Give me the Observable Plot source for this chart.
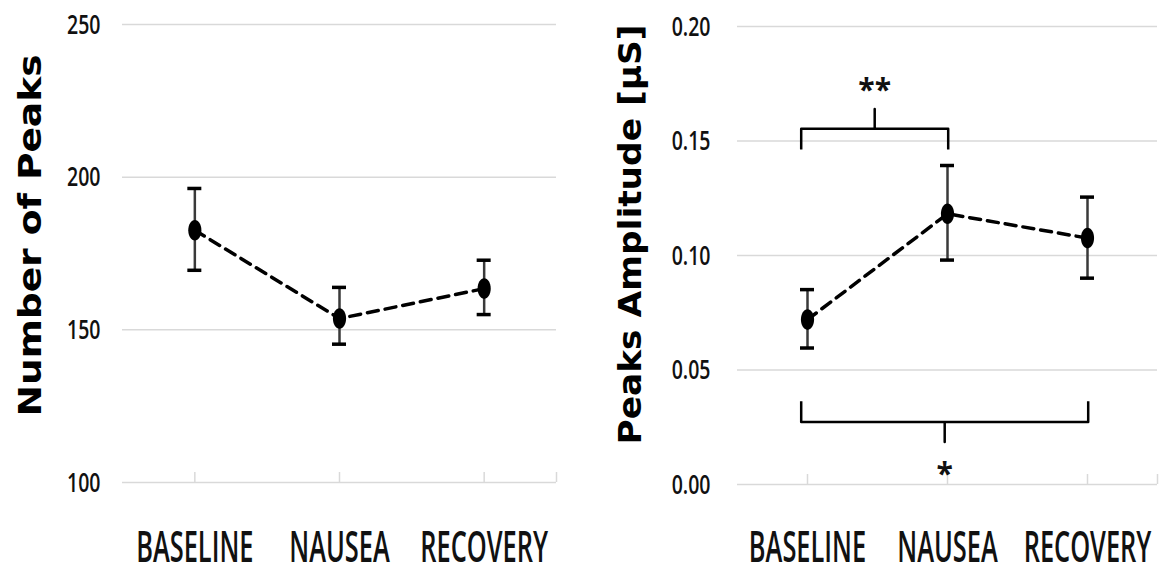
<!DOCTYPE html>
<html><head><meta charset="utf-8">
<script src="https://cdn.jsdelivr.net/npm/d3@7"></script>
<script src="https://cdn.jsdelivr.net/npm/@observablehq/plot@0.6"></script>
<style>
html,body{margin:0;padding:0;background:#fff;}
#wrap{position:relative;width:1165px;height:565px;display:flex;overflow:hidden;}
#wrap svg{display:block;flex:none;}
</style></head><body><div id="wrap"></div>
<script>
// ---- data ----
const categories = ["BASELINE", "NAUSEA", "RECOVERY"];

const peaksMean = [182.6, 153.7, 163.5];
const peaksLow  = [169.5, 145.3, 155.0];
const peaksHigh = [196.3, 163.9, 172.8];
const peaksTicks = [100, 150, 200, 250];
const peaksTitle = "Number of Peaks";

const ampMean = [0.0720, 0.1182, 0.1076];
const ampLow  = [0.0596, 0.0980, 0.0901];
const ampHigh = [0.0851, 0.1393, 0.1255];
const ampTicks = [0, 0.05, 0.10, 0.15, 0.20];
const ampTitle = "Peaks Amplitude [µS]";

// significance brackets (right panel)
const sigFrom   = ["BASELINE", "BASELINE"];
const sigTo     = ["NAUSEA", "RECOVERY"];
const sigLevel  = [0.1553, 0.0273];
const sigSide   = ["above", "below"];
const sigLabel  = ["**", "*"];

// ---- helpers ----
const ellipse = {
  draw(ctx, size) {
    const r = Math.sqrt(size / Math.PI), rx = r * 0.64, ry = r;
    const kx = rx * 0.5523, ky = ry * 0.5523;
    ctx.moveTo(rx, 0);
    ctx.bezierCurveTo(rx, ky, kx, ry, 0, ry);
    ctx.bezierCurveTo(-kx, ry, -rx, ky, -rx, 0);
    ctx.bezierCurveTo(-rx, -ky, -kx, -ry, 0, -ry);
    ctx.bezierCurveTo(kx, -ry, rx, -ky, rx, 0);
    ctx.closePath();
  }
};

function rows(mean, low, high) {
  return categories.map((c, i) => ({i, cat: c, mean: mean[i], low: low[i], high: high[i]}));
}

function baseMarks(data, ticks, yMin) {
  const tickXs = d3.range(categories.length).concat([categories.length - 0.5]);
  return [
    Plot.ruleY(ticks, {stroke: "#d9d9d9", strokeWidth: 1.5}),
    Plot.ruleX(tickXs, {x: d => d, y1: yMin, y2: yMin, insetTop: -10, stroke: "#d9d9d9", strokeWidth: 1.5}),
    Plot.line(data, {x: "i", y: "mean", stroke: "#000", strokeWidth: 3.5, strokeDasharray: "11,7"}),
    Plot.ruleX(data, {x: "i", y1: "low", y2: "high", stroke: "#3a3a3a", strokeWidth: 2.5}),
    Plot.ruleY(data, {y: "low", x1: "i", x2: "i", insetLeft: -7, insetRight: -7, stroke: "#000", strokeWidth: 3.5}),
    Plot.ruleY(data, {y: "high", x1: "i", x2: "i", insetLeft: -7, insetRight: -7, stroke: "#000", strokeWidth: 3.5}),
    Plot.dot(data, {x: "i", y: "mean", symbol: ellipse, r: 10.3, fill: "#000", stroke: "none"})
  ];
}

const svgStyle = {fontFamily: "'Open Sans', Lato, sans-serif", fontSize: "20px", fontWeight: 600, color: "#111", background: "#fff", overflow: "visible"};
const titleOpts = {fontFamily: "'DejaVu Sans', Verdana, sans-serif", fontWeight: "bold", fontSize: 32, fill: "#000", rotate: -90, frameAnchor: "left", textAnchor: "middle", lineAnchor: "middle", text: d => d};

// ---- left chart ----
const peaksData = rows(peaksMean, peaksLow, peaksHigh);
const left = Plot.plot({
  width: 583, height: 565,
  marginLeft: 122, marginRight: 27, marginTop: 24, marginBottom: 83,
  style: svgStyle,
  x: {type: "linear", domain: [-0.5, categories.length - 0.5], ticks: d3.range(categories.length), tickFormat: i => categories[i], tickSize: 0, tickPadding: 54, label: null},
  y: {domain: [peaksTicks[0], peaksTicks[peaksTicks.length - 1]], ticks: peaksTicks, tickFormat: d3.format("d"), tickSize: 0, tickPadding: 22, label: null},
  marks: [
    ...baseMarks(peaksData, peaksTicks, peaksTicks[0]),
    Plot.text([peaksTitle], {...titleOpts, dx: -92, dy: -18})
  ]
});

// ---- right chart ----
const ampData = rows(ampMean, ampLow, ampHigh);
const idx = c => categories.indexOf(c);
const bracketPts = [];
const legLen = 0.009, tipLen = 0.0087;
sigFrom.forEach((f, k) => {
  const x1 = idx(f) - 0.045, x2 = idx(sigTo[k]) + 0.005, m = (x1 + x2) / 2, y = sigLevel[k];
  const s = sigSide[k] === "above" ? 1 : -1;
  [[x1, y - s * legLen], [x1, y], [m, y], [m, y + s * tipLen], [m, y], [x2, y], [x2, y - s * legLen]]
    .forEach(([x, yy]) => bracketPts.push({k, x, y: yy}));
});
const sigData = sigLabel.map((t, k) => {
  const x1 = idx(sigFrom[k]) - 0.045, x2 = idx(sigTo[k]) + 0.005;
  return {t, x: (x1 + x2) / 2, y: sigLevel[k], side: sigSide[k]};
});

const right = Plot.plot({
  width: 582, height: 565,
  marginLeft: 154, marginRight: 8, marginTop: 26, marginBottom: 81,
  style: svgStyle,
  x: {type: "linear", domain: [-0.5, categories.length - 0.5], ticks: d3.range(categories.length), tickFormat: i => categories[i], tickSize: 0, tickPadding: 52, label: null},
  y: {domain: [ampTicks[0], ampTicks[ampTicks.length - 1]], ticks: ampTicks, tickFormat: d3.format(".2f"), tickSize: 0, tickPadding: 27, label: null},
  marks: [
    ...baseMarks(ampData, ampTicks, ampTicks[0]),
    Plot.line(bracketPts, {x: "x", y: "y", z: "k", stroke: "#000", strokeWidth: 2.5, strokeLinejoin: "round", strokeLinecap: "butt"}),
    Plot.text(sigData.filter(d => d.side === "above"), {x: "x", y: "y", text: "t", dy: -38, fontFamily: "'Open Sans', sans-serif", fontWeight: 700, fontSize: 30, fill: "#111"}),
    Plot.text(sigData.filter(d => d.side === "below"), {x: "x", y: "y", text: "t", dy: 52, fontFamily: "'Open Sans', sans-serif", fontWeight: 700, fontSize: 30, fill: "#111"}),
    Plot.text([ampTitle], {...titleOpts, dx: -107, dy: -21})
  ]
});

const wrap = document.getElementById("wrap");
wrap.appendChild(left);
wrap.appendChild(right);

// tall, condensed look of the axis labels: smaller font stretched vertically around its centre
function stretch(svg, sel, size, sy) {
  svg.querySelectorAll(sel).forEach(t => {
    t.style.fontSize = size;
    t.style.fill = "#111";
    const b = t.getBBox();
    const ox = b.x + b.width / 2, oy = b.y + b.height / 2;
    const prev = t.getAttribute("transform") || "";
    t.setAttribute("transform", `${prev} translate(${ox.toFixed(2)},${oy.toFixed(2)}) scale(1,${sy}) translate(${(-ox).toFixed(2)},${(-oy).toFixed(2)})`);
  });
}
for (const svg of [left, right]) {
  stretch(svg, '[aria-label^="x-axis"] text', "25.4px", 1.72);
  stretch(svg, '[aria-label^="y-axis"] text', "19.5px", 1.37);
}
// wide bold axis titles
function widen(svg, title, len) {
  svg.querySelectorAll("text").forEach(t => {
    if (t.textContent === title) {
      t.setAttribute("textLength", len);
      t.setAttribute("lengthAdjust", "spacingAndGlyphs");
    }
  });
}
widen(left, peaksTitle, 362);
widen(right, ampTitle, 420);
</script>
</body></html>
